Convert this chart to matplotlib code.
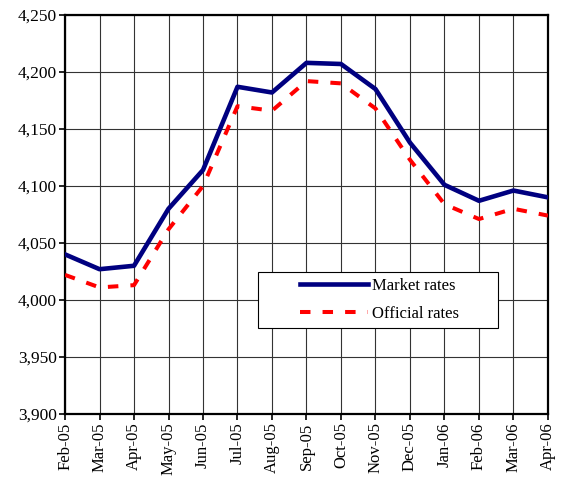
import matplotlib
matplotlib.use('Agg')
import matplotlib.pyplot as plt
from matplotlib.patches import Rectangle

plt.rcParams['font.family'] = ['Liberation Serif', 'DejaVu Serif']

months = ['Feb-05', 'Mar-05', 'Apr-05', 'May-05', 'Jun-05', 'Jul-05', 'Aug-05',
          'Sep-05', 'Oct-05', 'Nov-05', 'Dec-05', 'Jan-06', 'Feb-06', 'Mar-06', 'Apr-06']
market = [4040, 4027, 4030, 4080, 4114, 4187, 4182, 4208, 4207, 4185,
          4138, 4101, 4087, 4096, 4090]
official = [4022, 4011, 4013, 4062, 4100, 4170, 4166, 4192, 4190, 4168,
            4123, 4084, 4071, 4080, 4074]
yticks = [3900, 3950, 4000, 4050, 4100, 4150, 4200, 4250]

fig = plt.figure(figsize=(5.62, 4.83), dpi=100)
ax = fig.add_axes([0.1157, 0.1429, 0.8593, 0.8261])

x = range(len(months))
ax.plot(x, market, color='#000080', lw=3.3, label='Market rates', zorder=3)
ax.plot(x, official, color='#ff0000', lw=2.9, ls=(0, (2.6, 3.0)),
        label='Official rates', zorder=3)

ax.set_xlim(0, len(months) - 1)
ax.set_ylim(3900, 4250)
ax.set_xticks(list(x))
ax.set_xticklabels(months, rotation=90, fontsize=12)
ax.set_yticks(yticks)
ax.set_yticklabels(['{:,}'.format(v) for v in yticks], fontsize=12.5)
ax.grid(True, color='#333333', lw=0.8)
ax.set_axisbelow(True)
for s in ax.spines.values():
    s.set_linewidth(1.6)
ax.tick_params(axis='both', direction='out', length=4, width=1.2, pad=2)

# legend box drawn separately (wide padding like the original)
box = Rectangle((0.3996, 0.2155), 0.497, 0.1404, transform=ax.transAxes,
                facecolor='white', edgecolor='black', lw=0.8, zorder=4)
ax.add_patch(box)
leg = ax.legend(loc='center left', bbox_to_anchor=(0.4865, 0.2857),
                fontsize=12, frameon=False, handlelength=4.1,
                borderpad=0, borderaxespad=0, labelspacing=0.7,
                handletextpad=0.25)
leg.set_zorder(5)

fig.savefig('out.png', dpi=100)
